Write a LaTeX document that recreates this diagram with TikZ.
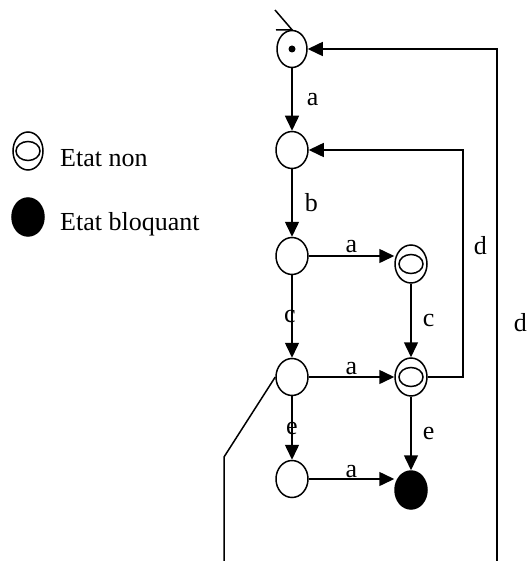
\documentclass[tikz,border=0pt]{standalone}
\usepackage{fontspec}
\setmainfont{Liberation Serif}
\usetikzlibrary{arrows.meta,shapes.geometric,positioning}
\tikzset{
  etat/.style={draw, ellipse, line width=1.5pt, minimum width=32pt, minimum height=37pt, inner sep=0pt},
  etatnon/.style={etat, minimum height=38pt, path picture={\draw[line width=1.5pt] (path picture bounding box.center) ellipse (12pt and 9.5pt);}},
  bloquant/.style={etat, fill=black},
  fleche/.style={-{Triangle[length=15pt,width=14pt]}, line width=1.5pt},
  lien/.style={line width=1.5pt},
  lab/.style={inner sep=0pt},
}
\begin{document}
\begin{tikzpicture}[x=1pt,y=-1pt,font=\fontsize{26}{30}\selectfont]
\useasboundingbox (0,0) rectangle (528,561);
\node[etat, minimum width=30pt, path picture={\fill (path picture bounding box.center) circle (3.5pt);}] (s0) at (292,49) {};
\foreach \n/\y in {1/150,2/256,3/377,4/479}
  \node[etat] (s\n) at (292,\y) {};
\node[etatnon] (na) at (411,264) {};
\node[etatnon] (nb) at (411,377) {};
\node[bloquant, minimum height=38pt] (bl) at (411,490) {};

\node[etatnon, minimum width=30pt] (lnon) at (28,151) {};
\node[anchor=base west, inner sep=0pt] (tnon) at (60,167) {Etat non};
\node[bloquant, minimum height=38pt] (lbl) at (28,217) {};
\node[anchor=base west, inner sep=0pt] (tbl) at (60,230) {Etat bloquant};

\coordinate (init) at (275,10);
\coordinate (initb) at (276,30);
\draw[lien] (init) -- (s0.north) -- (initb);

\draw[fleche] (s0) -- node[lab, right=14pt] {a} (s1);
\draw[fleche] (s1) -- node[lab, right=12pt] {b} (s2);
\draw[fleche] (s2.east) -- node[lab, above=2pt] {a} (s2 -| na.west);
\draw[fleche] (s2) -- node[lab, xshift=-2pt] {c} (s3);
\draw[fleche] (na) -- node[lab, right=11pt] {c} (nb);
\draw[fleche] (s3) -- node[lab, above=2pt] {a} (nb);
\draw[fleche] (s3) -- node[lab] {e} (s4);
\draw[fleche] (nb) -- node[lab, right=11pt] {e} (bl);
\draw[fleche] (s4.east) -- node[lab, above=1pt] {a} (s4 -| bl.west);

\coordinate (dc) at (463,377);
\draw[fleche] (nb.east) -- (dc) |- node[lab, pos=0.29, right=10pt] {d} (s1.east);

\coordinate (p1) at (224,457);
\coordinate (p2) at (224,561);
\coordinate (p3) at (497,561);
\draw[lien] (s3.west) -- (p1) -- (p2);
\draw[fleche] (p3) |- node[lab, pos=0.233, right=16pt] {d} (s0.east);
\end{tikzpicture}
\end{document}
